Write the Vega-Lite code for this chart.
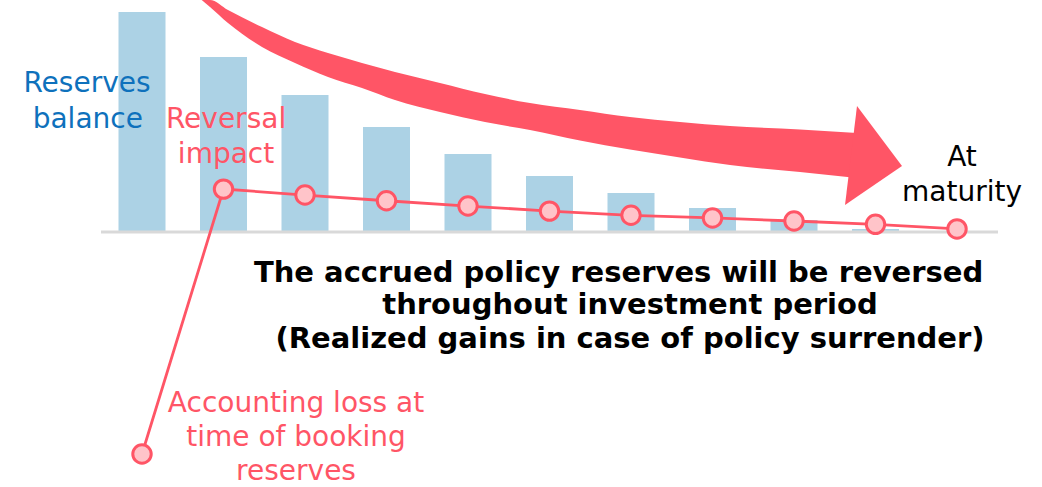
{
  "$schema": "https://vega.github.io/schema/vega-lite/v6.json",
  "width": 1042,
  "height": 487,
  "padding": 0,
  "autosize": "none",
  "background": "white",
  "config": {"view": {"stroke": null}, "scale": {"continuousPadding": 0}},
  "datasets": {
    "shaft": [
      {"t": 0.7325, "top": 105.45, "bottom": 105.45},
      {"t": 0.8344, "top": 105.45, "bottom": 102.27},
      {"t": 1.0552, "top": 100.91, "bottom": 95.0},
      {"t": 1.4724, "top": 93.18, "bottom": 84.09},
      {"t": 1.8773, "top": 86.36, "bottom": 76.82},
      {"t": 2.2822, "top": 81.36, "bottom": 70.45},
      {"t": 2.6994, "top": 76.82, "bottom": 65.45},
      {"t": 3.1043, "top": 72.73, "bottom": 60.0},
      {"t": 3.6564, "top": 67.73, "bottom": 54.55},
      {"t": 4.2086, "top": 62.73, "bottom": 50.0},
      {"t": 4.7607, "top": 58.64, "bottom": 46.36},
      {"t": 5.3742, "top": 55.45, "bottom": 41.59},
      {"t": 5.9877, "top": 52.27, "bottom": 37.5},
      {"t": 6.6012, "top": 50.0, "bottom": 33.86},
      {"t": 7.2147, "top": 48.18, "bottom": 30.45},
      {"t": 8.0736, "top": 46.59, "bottom": 27.27},
      {"t": 8.773, "top": 45.0, "bottom": 24.55}
    ],
    "head": [
      {"t": 8.626, "top": 12.3, "bottom": 12.3},
      {"t": 8.773, "top": 57.3, "bottom": 16.0},
      {"t": 9.325, "top": 30.0, "bottom": 30.0}
    ],
    "bars": [
      {"t": 0, "balance": 100},
      {"t": 1, "balance": 79.5},
      {"t": 2, "balance": 62.3},
      {"t": 3, "balance": 47.7},
      {"t": 4, "balance": 35.5},
      {"t": 5, "balance": 25.5},
      {"t": 6, "balance": 17.7},
      {"t": 7, "balance": 10.9},
      {"t": 8, "balance": 5.5},
      {"t": 9, "balance": 1.4}
    ],
    "axisline": [{"start": -0.503, "end": 10.503, "level": 0}],
    "impact": [
      {"t": 0, "impact": -100.9},
      {"t": 1, "impact": 19.5},
      {"t": 2, "impact": 16.8},
      {"t": 3, "impact": 14.2},
      {"t": 4, "impact": 11.8},
      {"t": 5, "impact": 9.5},
      {"t": 6, "impact": 7.6},
      {"t": 7, "impact": 6.4},
      {"t": 8, "impact": 5.0},
      {"t": 9, "impact": 3.5},
      {"t": 10, "impact": 1.4}
    ],
    "labels": [
      {"text": "Reserves", "t": -0.675, "v": 63.6, "role": "balance"},
      {"text": "balance", "t": -0.665, "v": 47.3, "role": "balance"},
      {"text": "Reversal", "t": 1.031, "v": 47.3, "role": "impact"},
      {"text": "impact", "t": 1.031, "v": 31.4, "role": "impact"},
      {"text": "At", "t": 10.061, "v": 30.0, "role": "maturity"},
      {"text": "maturity", "t": 10.061, "v": 14.2, "role": "maturity"},
      {"text": "Accounting loss at", "t": 1.89, "v": -81.8, "role": "impact"},
      {"text": "time of booking", "t": 1.89, "v": -97.27, "role": "impact"},
      {"text": "reserves", "t": 1.89, "v": -112.7, "role": "impact"}
    ],
    "message": [
      {"text": "The accrued policy reserves will be reversed", "t": 5.847, "v": -22.7},
      {"text": "throughout investment period", "t": 5.988, "v": -37.3},
      {"text": "(Realized gains in case of policy surrender)", "t": 5.988, "v": -52.7}
    ]
  },
  "layer": [
    {
      "data": {"name": "shaft"},
      "mark": {"type": "area", "color": "#ff5566", "interpolate": "monotone"},
      "encoding": {
        "x": {"field": "t", "type": "quantitative", "scale": {"domain": [-1.74233, 11.0429], "nice": false, "zero": false, "padding": 0}, "axis": null},
        "y": {"field": "top", "type": "quantitative", "scale": {"domain": [-115.909, 105.4545], "nice": false, "zero": false, "padding": 0}, "axis": null},
        "y2": {"field": "bottom"}
      }
    },
    {
      "data": {"name": "head"},
      "mark": {"type": "area", "color": "#ff5566"},
      "encoding": {
        "x": {"field": "t", "type": "quantitative", "scale": {"domain": [-1.74233, 11.0429], "nice": false, "zero": false, "padding": 0}, "axis": null},
        "y": {"field": "top", "type": "quantitative", "scale": {"domain": [-115.909, 105.4545], "nice": false, "zero": false, "padding": 0}, "axis": null},
        "y2": {"field": "bottom"}
      }
    },
    {
      "data": {"name": "bars"},
      "mark": {"type": "bar", "color": "#acd2e5", "width": 47},
      "encoding": {
        "x": {"field": "t", "type": "quantitative", "scale": {"domain": [-1.74233, 11.0429], "nice": false, "zero": false, "padding": 0}, "axis": null},
        "y": {"field": "balance", "type": "quantitative", "scale": {"domain": [-115.909, 105.4545], "nice": false, "zero": false, "padding": 0}, "axis": null},
        "y2": {"datum": 0}
      }
    },
    {
      "data": {"name": "axisline"},
      "mark": {"type": "rule", "color": "#d9d9d9", "strokeWidth": 3},
      "encoding": {
        "x": {"field": "start", "type": "quantitative", "scale": {"domain": [-1.74233, 11.0429], "nice": false, "zero": false, "padding": 0}, "axis": null},
        "x2": {"field": "end"},
        "y": {"field": "level", "type": "quantitative", "scale": {"domain": [-115.909, 105.4545], "nice": false, "zero": false, "padding": 0}, "axis": null}
      }
    },
    {
      "data": {"name": "impact"},
      "mark": {"type": "line", "color": "#ff5566", "strokeWidth": 2.8},
      "encoding": {
        "x": {"field": "t", "type": "quantitative", "scale": {"domain": [-1.74233, 11.0429], "nice": false, "zero": false, "padding": 0}, "axis": null},
        "y": {"field": "impact", "type": "quantitative", "scale": {"domain": [-115.909, 105.4545], "nice": false, "zero": false, "padding": 0}, "axis": null}
      }
    },
    {
      "data": {"name": "impact"},
      "mark": {"type": "point", "shape": "circle", "filled": true, "fill": "#ffc4c9", "stroke": "#ff5566", "strokeWidth": 3, "size": 340, "opacity": 1},
      "encoding": {
        "x": {"field": "t", "type": "quantitative", "scale": {"domain": [-1.74233, 11.0429], "nice": false, "zero": false, "padding": 0}, "axis": null},
        "y": {"field": "impact", "type": "quantitative", "scale": {"domain": [-115.909, 105.4545], "nice": false, "zero": false, "padding": 0}, "axis": null}
      }
    },
    {
      "data": {"name": "labels"},
      "mark": {"type": "text", "font": "DejaVu Sans", "fontSize": 28, "align": "center", "baseline": "alphabetic"},
      "encoding": {
        "x": {"field": "t", "type": "quantitative", "scale": {"domain": [-1.74233, 11.0429], "nice": false, "zero": false, "padding": 0}, "axis": null},
        "y": {"field": "v", "type": "quantitative", "scale": {"domain": [-115.909, 105.4545], "nice": false, "zero": false, "padding": 0}, "axis": null},
        "text": {"field": "text"},
        "color": {"field": "role", "type": "nominal", "scale": {"domain": ["balance", "impact", "maturity"], "range": ["#0e71bc", "#ff5566", "#000000"]}, "legend": null}
      }
    },
    {
      "data": {"name": "message"},
      "mark": {"type": "text", "font": "DejaVu Sans", "fontSize": 29, "fontWeight": "bold", "align": "center", "baseline": "alphabetic", "color": "#000000"},
      "encoding": {
        "x": {"field": "t", "type": "quantitative", "scale": {"domain": [-1.74233, 11.0429], "nice": false, "zero": false, "padding": 0}, "axis": null},
        "y": {"field": "v", "type": "quantitative", "scale": {"domain": [-115.909, 105.4545], "nice": false, "zero": false, "padding": 0}, "axis": null},
        "text": {"field": "text"}
      }
    }
  ]
}
